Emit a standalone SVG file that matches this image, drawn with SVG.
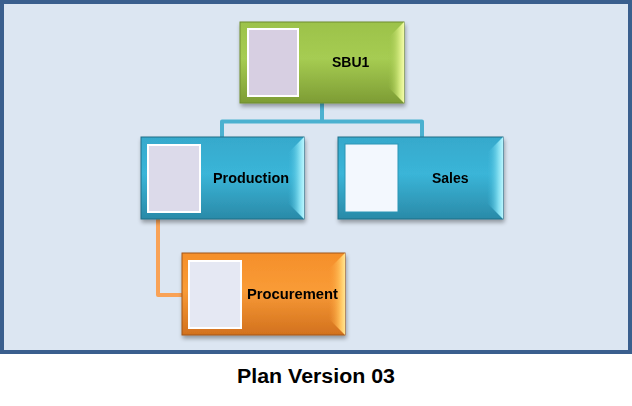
<svg xmlns="http://www.w3.org/2000/svg" width="632" height="406" viewBox="0 0 632 406">
<defs>
<style>
.lbl{font-family:"Liberation Sans",Arial,sans-serif;font-weight:bold;font-size:14px;fill:#000}
.cap{font-family:"Liberation Sans",Arial,sans-serif;font-weight:bold;font-size:20px;fill:#000}
.conn{fill:none;stroke-width:4;stroke-linejoin:round}
.inner{stroke:#ffffff;stroke-width:2}
</style>
<linearGradient id="gGreen" x1="0" y1="0" x2="0" y2="1">
<stop offset="0" stop-color="#9cc24a"/><stop offset="0.45" stop-color="#a6cc52"/><stop offset="1" stop-color="#7d9c34"/>
</linearGradient>
<linearGradient id="gBlue" x1="0" y1="0" x2="0" y2="1">
<stop offset="0" stop-color="#36a9cc"/><stop offset="0.45" stop-color="#3ab5d8"/><stop offset="1" stop-color="#2a8aa8"/>
</linearGradient>
<linearGradient id="gOrange" x1="0" y1="0" x2="0" y2="1">
<stop offset="0" stop-color="#f58f2a"/><stop offset="0.45" stop-color="#f99b36"/><stop offset="1" stop-color="#d2711e"/>
</linearGradient>
<linearGradient id="bvGreen" x1="0" y1="0" x2="1" y2="0">
<stop offset="0" stop-color="#9cc24a" stop-opacity="0"/><stop offset="0.7" stop-color="#cfe77a"/><stop offset="1" stop-color="#f4fca8"/>
</linearGradient>
<linearGradient id="bvBlue" x1="0" y1="0" x2="1" y2="0">
<stop offset="0" stop-color="#3ab5d8" stop-opacity="0"/><stop offset="0.7" stop-color="#7fdcef"/><stop offset="1" stop-color="#b8f6ff"/>
</linearGradient>
<linearGradient id="bvOrange" x1="0" y1="0" x2="1" y2="0">
<stop offset="0" stop-color="#f99b36" stop-opacity="0"/><stop offset="0.7" stop-color="#ffc05a"/><stop offset="1" stop-color="#ffe590"/>
</linearGradient>
<filter id="sh" x="-10%" y="-10%" width="125%" height="130%">
<feGaussianBlur in="SourceAlpha" stdDeviation="2"/>
<feOffset dx="1" dy="3" result="b"/>
<feComponentTransfer><feFuncA type="linear" slope="0.35"/></feComponentTransfer>
<feMerge><feMergeNode/><feMergeNode in="SourceGraphic"/></feMerge>
</filter>
</defs>

<rect x="2" y="2" width="628" height="350" fill="#dce6f2" stroke="#3a5f8e" stroke-width="4"/>

<g id="connectors">
<path class="conn" stroke="#4bb1d0" d="M322,103 V121.5 M222,138 V121.5 H422 V138"/>
<path class="conn" stroke="#f9a256" d="M158,219 V295 H182"/>
</g>

<g id="node-sbu1" filter="url(#sh)">
<rect x="240" y="22" width="164" height="81" fill="url(#gGreen)" stroke="#6e8d2e" stroke-width="1"/>
<polygon points="404,22 388,38 388,87 404,103" fill="url(#bvGreen)"/>
<rect x="248" y="29" width="50" height="67" fill="#d7cfe2" class="inner"/>
<text class="lbl" x="332" y="67">SBU1</text>
</g>

<g id="node-production" filter="url(#sh)">
<rect x="141" y="137" width="163" height="82" fill="url(#gBlue)" stroke="#1f6f87" stroke-width="1"/>
<polygon points="304,137 288,153 288,203 304,219" fill="url(#bvBlue)"/>
<rect x="148" y="145" width="52" height="67" fill="#dcdaea" class="inner"/>
<text class="lbl" x="213" y="183" textLength="76" lengthAdjust="spacingAndGlyphs">Production</text>
</g>

<g id="node-sales" filter="url(#sh)">
<rect x="338" y="137" width="165" height="82" fill="url(#gBlue)" stroke="#1f6f87" stroke-width="1"/>
<polygon points="503,137 487,153 487,203 503,219" fill="url(#bvBlue)"/>
<rect x="345" y="144" width="53" height="68" fill="#f3f8fe" stroke="#2a95b5" stroke-width="1"/>
<text class="lbl" x="432" y="183">Sales</text>
</g>

<g id="node-procurement" filter="url(#sh)">
<rect x="182" y="253" width="163" height="82" fill="url(#gOrange)" stroke="#a2571b" stroke-width="1"/>
<polygon points="345,253 329,269 329,319 345,335" fill="url(#bvOrange)"/>
<rect x="189" y="261" width="52" height="67" fill="#e5e8f3" class="inner"/>
<text class="lbl" x="247" y="299" textLength="91" lengthAdjust="spacingAndGlyphs">Procurement</text>
</g>

<text class="cap" x="316" y="383" text-anchor="middle" textLength="158" lengthAdjust="spacingAndGlyphs">Plan Version 03</text>
</svg>
